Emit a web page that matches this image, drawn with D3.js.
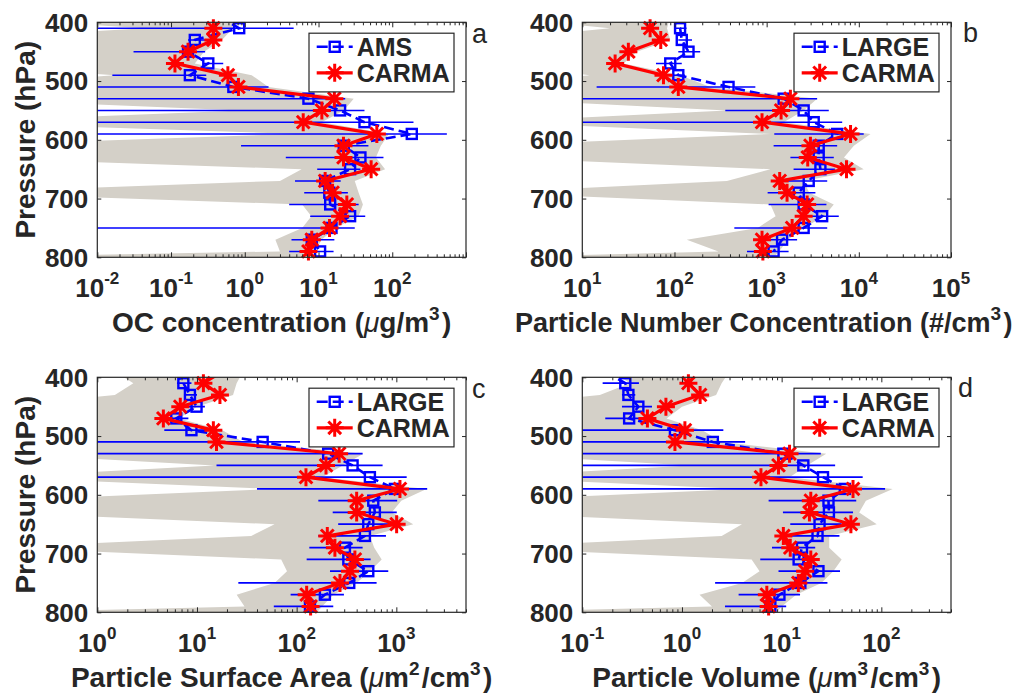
<!DOCTYPE html>
<html>
<head>
<meta charset="utf-8">
<script src="https://cdn.jsdelivr.net/npm/d3@7/dist/d3.min.js"></script>
<style>
body { margin: 0; background: #fff; }
text { font-family: "Liberation Sans", Arial, Helvetica, sans-serif; fill: #262626; }
</style>
</head>
<body>
<script>
// pressure levels (hPa) of the profiles; 390 lies just above the plotted range
var levels = [390,410,430,450,470,490,510,530,550,570,590,610,630,650,670,690,710,730,750,770,790];
var envLevels = [390,410,430,450,470,490,510,530,550,570,590,610,630,650,670,690,710,730,750,770,790,800];
var pressureTicks = [400,500,600,700,800];

// a: OC concentration (ug/m3)
var amsOC    = [0.45,0.84,0.21,0.17,0.32,0.18,0.7,7.3,19.6,42,184,22,37,26.8,12.3,14,14.4,26.8,15,8.1,10.5];
var amsOCLo  = [1e-4,1e-4,0.17,0.031,0.28,0.016,1e-4,1e-4,1e-4,1e-4,1e-4,0.89,3.6,9.6,4.8,6.4,4.0,7.7,1e-4,4.3,4.0];
var amsOCHi  = [3,4.6,0.3,0.29,0.51,0.3,2.1,23,42,194,550,47.5,76,37,20,25,35,43,31,16.4,16];
var carmaOC  = [0.5,0.375,0.375,0.17,0.113,0.59,0.82,16.4,11.1,6.2,61.8,21.8,21.8,51.7,12.3,15.5,24.2,19.6,14.1,8.1,7.3];
var envOCMin = [1e-4,0.044,1e-4,1e-4,1e-4,0.017,1e-4,1e-4,0.9,1e-4,5,1e-4,1e-4,5.9,3,1e-4,6,8,6,2.6,3,1e-4];
var envOCMax = [0.8,0.69,0.49,0.28,0.21,1.24,2.1,30,22,11,90,70,60,80,31,35,40,35,17,11,9,8];

// b: particle number concentration (#/cm3)
var largeN    = [90,115,120,142,90,110,386,1530,2520,3240,5820,3670,3670,3830,2860,2230,2520,4000,2520,1470,1190];
var largeNLo  = [80,100,110,110,63,76,14.3,1,356,1,1210,1190,1810,1960,1530,1025,1050,2320,446,930,612];
var largeNHi  = [110,135,155,190,120,130,754,3530,4720,6600,11300,5820,5350,5500,4540,3380,4450,6060,4540,2140,1730];
var carmaN    = [68,54.4,71,31.6,22.7,76,110,1810,1435,891,8130,2985,2790,7350,1385,1665,2750,2520,1890,891,910];
var envNMin   = [1,20,1,1,1,12,1,1,371,1,1100,1,1,1100,370,1,1100,1250,800,136,300,1];
var envNMax   = [90,83,90,39,28,115,244,3530,2520,1530,13400,8830,6900,11300,2520,2900,5350,4200,2520,1700,1360,1200];

// c: particle surface area (um2/cm3)
var largeS    = [6,7.3,8.5,9.9,6.2,8.8,45.6,207,364,543,968,587,609,523,484,305,330,523,337,192,136];
var largeSLo  = [5,6.3,7.7,8.2,4.4,4.7,0.1,0.1,15.7,0.1,40,165,230,261,165,134,126,216,26,87,59];
var largeSHi  = [8,8.8,10,12,8.2,15,108,459,728,1270,2040,1020,1010,1090,787,459,552,830,634,298,233];
var carmaS    = [18,11.6,17,6.8,4.6,14.6,15.7,267,197,124,1087,400,400,1007,203,242,384,343,272,126,138];
var envSMin   = [1.5,2.3,1.5,0.1,0.1,0.8,0.1,0.1,15,0.1,60,0.1,0.1,60,35,0.1,70,80,60,25,30,0.1];
var envSMax   = [29,25,23,10,6.6,18,29,466,290,180,2010,1120,900,1480,543,600,713,543,400,233,180,160];

// d: particle volume (um3/cm3)
var largeV    = [0.17,0.27,0.29,0.365,0.295,0.85,2.04,10.4,16.5,26,43,29.5,29.8,24,22.9,16,14.8,23.4,15.4,9.5,7.7];
var largeVLo  = [0.12,0.16,0.25,0.25,0.17,0.01,0.01,0.01,0.01,0.01,0.01,7.4,10.3,12.2,10,8,6.1,9.3,2.15,3.7,2.7];
var largeVHi  = [0.25,0.37,0.34,0.5,0.5,2.6,4.3,24.7,34.4,65,109,56,52,40,38,21.7,23.4,38.5,28.8,15.3,11.1];
var carmaV    = [1.46,1.16,1.52,0.69,0.45,1.07,0.85,12,9.3,6.2,52,19.6,19,49.5,10.4,12.2,19.6,17.2,14.7,7.1,7.4];
var envVMin   = [0.2,0.3,0.15,0.01,0.01,0.08,0.01,0.01,1.2,0.01,4,0.01,0.01,4,2.5,0.01,5,6,4,1.5,2,0.01];
var envVMax   = [3,2.5,2.2,1,0.7,1.6,2.5,28,18,12,130,70,60,90,30,30,40,33,25,14,10,9];

var W = 368.7, H = 235;
var BLUE = "#0000ff", RED = "#ff0000", GREY = "rgb(212,208,200)", INK = "#262626";

var panels = [
  {id: "a", left: 97.3, top: 22.3, domain: [0.01, 1000], decades: [-2,-1,0,1,2],
   obs: amsOC, lo: amsOCLo, hi: amsOCHi, model: carmaOC, envMin: envOCMin, envMax: envOCMax,
   obsName: "AMS", yTitle: true, letter: [374.7, 20.7], titleSize: 28,
   title: [["OC concentration ("], ["\u03bc", "mu"], ["g/m"], ["3", "sup"], [")"]]},
  {id: "b", left: 582.3, top: 22.3, domain: [10, 1e5], decades: [1,2,3,4,5],
   obs: largeN, lo: largeNLo, hi: largeNHi, model: carmaN, envMin: envNMin, envMax: envNMax,
   obsName: "LARGE", yTitle: false, letter: [380.7, 19.7], titleSize: 27,
   title: [["Particle Number Concentration (#/cm"], ["3", "sup"], [")"]]},
  {id: "c", left: 97.3, top: 377.3, domain: [1, 5000], decades: [0,1,2,3],
   obs: largeS, lo: largeSLo, hi: largeSHi, model: carmaS, envMin: envSMin, envMax: envSMax,
   obsName: "LARGE", yTitle: true, letter: [374.7, 20.7], titleSize: 28,
   title: [["Particle Surface Area ("], ["\u03bc", "mu"], ["m"], ["2", "sup"], ["/cm"], ["3", "sup"], [")"]]},
  {id: "d", left: 582.3, top: 377.3, domain: [0.1, 500], decades: [-1,0,1,2],
   obs: largeV, lo: largeVLo, hi: largeVHi, model: carmaV, envMin: envVMin, envMax: envVMax,
   obsName: "LARGE", yTitle: false, letter: [375.7, 19.4], titleSize: 28,
   title: [["Particle Volume ("], ["\u03bc", "mu"], ["m"], ["3", "sup"], ["/cm"], ["3", "sup"], [")"]]}
];

var svg = d3.select("body").append("svg")
    .attr("width", 1021)
    .attr("height", 700);

function starPath(r) {
  var k = r * 0.7071;
  return "M" + (-r) + ",0H" + r + "M0," + (-r) + "V" + r +
         "M" + (-k) + "," + (-k) + "L" + k + "," + k +
         "M" + (-k) + "," + k + "L" + k + "," + (-k);
}

function drawSquare(sel) {
  sel.append("rect")
      .attr("x", -5).attr("y", -5)
      .attr("width", 10).attr("height", 10)
      .attr("fill", "none").attr("stroke", BLUE).attr("stroke-width", 2.4);
}

function drawStar(sel) {
  sel.append("path")
      .attr("d", starPath(9))
      .attr("fill", "none").attr("stroke", RED).attr("stroke-width", 3);
}

function addParts(text, parts, supSize, rise) {
  parts.forEach(function(pt) {
    var t = text.append("tspan").text(pt[0]);
    if (pt[1] === "mu") {
      t.attr("font-style", "italic").attr("font-weight", "normal");
    } else if (pt[1] === "sup") {
      t.attr("font-size", supSize).attr("dy", -rise);
      text.append("tspan").attr("dy", rise).text("\u200a");
    }
  });
}

panels.forEach(function(pn) {
  var x = d3.scaleLog().domain(pn.domain).range([0, W]),
      y = d3.scaleLinear().domain([400, 800]).range([0, H]);

  var g = svg.append("g")
      .attr("class", "panel panel-" + pn.id)
      .attr("transform", "translate(" + pn.left + "," + pn.top + ")");

  var clipId = "clip-" + pn.id;
  g.append("clipPath").attr("id", clipId)
    .append("rect").attr("width", W).attr("height", H);

  var env = envLevels.map(function(p, i) { return {p: p, lo: pn.envMin[i], hi: pn.envMax[i]}; }),
      obs = levels.map(function(p, i) { return {p: p, v: pn.obs[i], lo: pn.lo[i], hi: pn.hi[i]}; }),
      mod = levels.map(function(p, i) { return {p: p, v: pn.model[i]}; }),
      inside = function(d) { return d.p >= 400 && d.p <= 800; };

  // model range
  g.append("path")
      .datum(env)
      .attr("clip-path", "url(#" + clipId + ")")
      .attr("fill", GREY)
      .attr("d", d3.area()
        .y(function(d) { return y(d.p); })
        .x0(function(d) { return x(d.lo); })
        .x1(function(d) { return x(d.hi); }));

  // observation error bars
  g.append("g")
      .attr("clip-path", "url(#" + clipId + ")")
    .selectAll("line")
    .data(obs)
    .enter().append("line")
      .attr("x1", function(d) { return x(d.lo); })
      .attr("x2", function(d) { return x(d.hi); })
      .attr("y1", function(d) { return y(d.p); })
      .attr("y2", function(d) { return y(d.p); })
      .attr("stroke", BLUE).attr("stroke-width", 1.6);

  g.append("path")
      .datum(obs)
      .attr("clip-path", "url(#" + clipId + ")")
      .attr("fill", "none").attr("stroke", BLUE)
      .attr("stroke-width", 2.6).attr("stroke-dasharray", "10,5")
      .attr("d", d3.line().x(function(d) { return x(d.v); }).y(function(d) { return y(d.p); }));

  g.append("g").selectAll("g")
    .data(obs.filter(inside))
    .enter().append("g")
      .attr("transform", function(d) { return "translate(" + x(d.v) + "," + y(d.p) + ")"; })
      .call(drawSquare);

  // model profile
  g.append("path")
      .datum(mod)
      .attr("clip-path", "url(#" + clipId + ")")
      .attr("fill", "none").attr("stroke", RED).attr("stroke-width", 3.2)
      .attr("d", d3.line().x(function(d) { return x(d.v); }).y(function(d) { return y(d.p); }));

  g.append("g").selectAll("g")
    .data(mod.filter(inside))
    .enter().append("g")
      .attr("transform", function(d) { return "translate(" + x(d.v) + "," + y(d.p) + ")"; })
      .call(drawStar);

  // axes: inward ticks on all four sides
  var majors = d3.range(Math.round(Math.log10(pn.domain[0])), Math.floor(Math.log10(pn.domain[1])) + 1)
        .map(function(e) { return Math.pow(10, e); }),
      minors = x.ticks().filter(function(t) {
        var l = Math.log10(t);
        return Math.abs(l - Math.round(l)) > 1e-6;
      });

  function ticks(axis, vals, size) {
    return function(sel) {
      sel.call(axis.tickValues(vals).tickSize(-size).tickSizeOuter(0).tickFormat(""));
      sel.select(".domain").remove();
      sel.selectAll(".tick line").attr("stroke", INK).attr("stroke-width", 1);
    };
  }
  g.append("g").attr("transform", "translate(0," + H + ")").call(ticks(d3.axisBottom(x), majors, 5));
  g.append("g").attr("transform", "translate(0," + H + ")").call(ticks(d3.axisBottom(x), minors, 3));
  g.append("g").call(ticks(d3.axisTop(x), majors, 5));
  g.append("g").call(ticks(d3.axisTop(x), minors, 3));
  g.append("g").call(ticks(d3.axisLeft(y), pressureTicks, 4));
  g.append("g").attr("transform", "translate(" + W + ",0)").call(ticks(d3.axisRight(y), pressureTicks, 4));

  g.append("rect")
      .attr("width", W).attr("height", H)
      .attr("fill", "none").attr("stroke", INK).attr("stroke-width", 1.2);

  // tick labels
  g.append("g").selectAll("text")
    .data(pn.decades)
    .enter().append("text")
      .attr("x", function(e) { return x(Math.pow(10, e)); })
      .attr("y", H + 39.5)
      .attr("text-anchor", "middle")
      .attr("font-size", 26).attr("font-weight", "bold")
      .each(function(e) {
        var t = d3.select(this);
        t.append("tspan").text("10");
        t.append("tspan").attr("font-size", 17).attr("dy", -13)
          .text(e < 0 ? "-" + Math.abs(e) : String(e));
      });

  g.append("g").selectAll("text")
    .data(pressureTicks)
    .enter().append("text")
      .attr("x", -9)
      .attr("y", function(p) { return y(p); })
      .attr("dy", "0.36em")
      .attr("text-anchor", "end")
      .attr("font-size", 26).attr("font-weight", "bold")
      .text(function(p) { return p; });

  // axis titles
  var xt = g.append("text")
      .attr("x", W / 2 - (pn.id === "b" ? 3 : 0)).attr("y", H + 75)
      .attr("text-anchor", "middle")
      .attr("font-size", pn.titleSize).attr("font-weight", "bold");
  addParts(xt, pn.title, 19, 12);

  if (pn.yTitle) {
    g.append("text")
        .attr("transform", "translate(" + (35 - pn.left) + "," + (H / 2) + ") rotate(-90)")
        .attr("text-anchor", "middle")
        .attr("font-size", 28).attr("font-weight", "bold")
        .text("Pressure (hPa)");
  }

  g.append("text")
      .attr("x", pn.letter[0]).attr("y", pn.letter[1])
      .attr("font-size", 27)
      .text(pn.id);

  // legend
  var lg = g.append("g").attr("transform", "translate(211.7,10.9)");
  lg.append("rect")
      .attr("width", 145).attr("height", 58.7)
      .attr("fill", "#fff").attr("stroke", INK).attr("stroke-width", 1.2);

  var e1 = lg.append("g").attr("transform", "translate(0,13.6)");
  e1.append("line").attr("x1", 7.7).attr("x2", 43.7)
      .attr("stroke", BLUE).attr("stroke-width", 2.6).attr("stroke-dasharray", "11,5");
  e1.append("g").attr("transform", "translate(25.7,0)").call(drawSquare);
  e1.append("text").attr("x", 47.7).attr("dy", "0.36em")
      .attr("font-size", 25).attr("font-weight", "bold").attr("fill", "#000")
      .text(pn.obsName);

  var e2 = lg.append("g").attr("transform", "translate(0,39.6)");
  e2.append("line").attr("x1", 7.7).attr("x2", 43.7)
      .attr("stroke", RED).attr("stroke-width", 3.2);
  e2.append("g").attr("transform", "translate(25.7,0)").call(drawStar);
  e2.append("text").attr("x", 47.7).attr("dy", "0.36em")
      .attr("font-size", 25).attr("font-weight", "bold").attr("fill", "#000")
      .text("CARMA");
});
</script>
</body>
</html>
